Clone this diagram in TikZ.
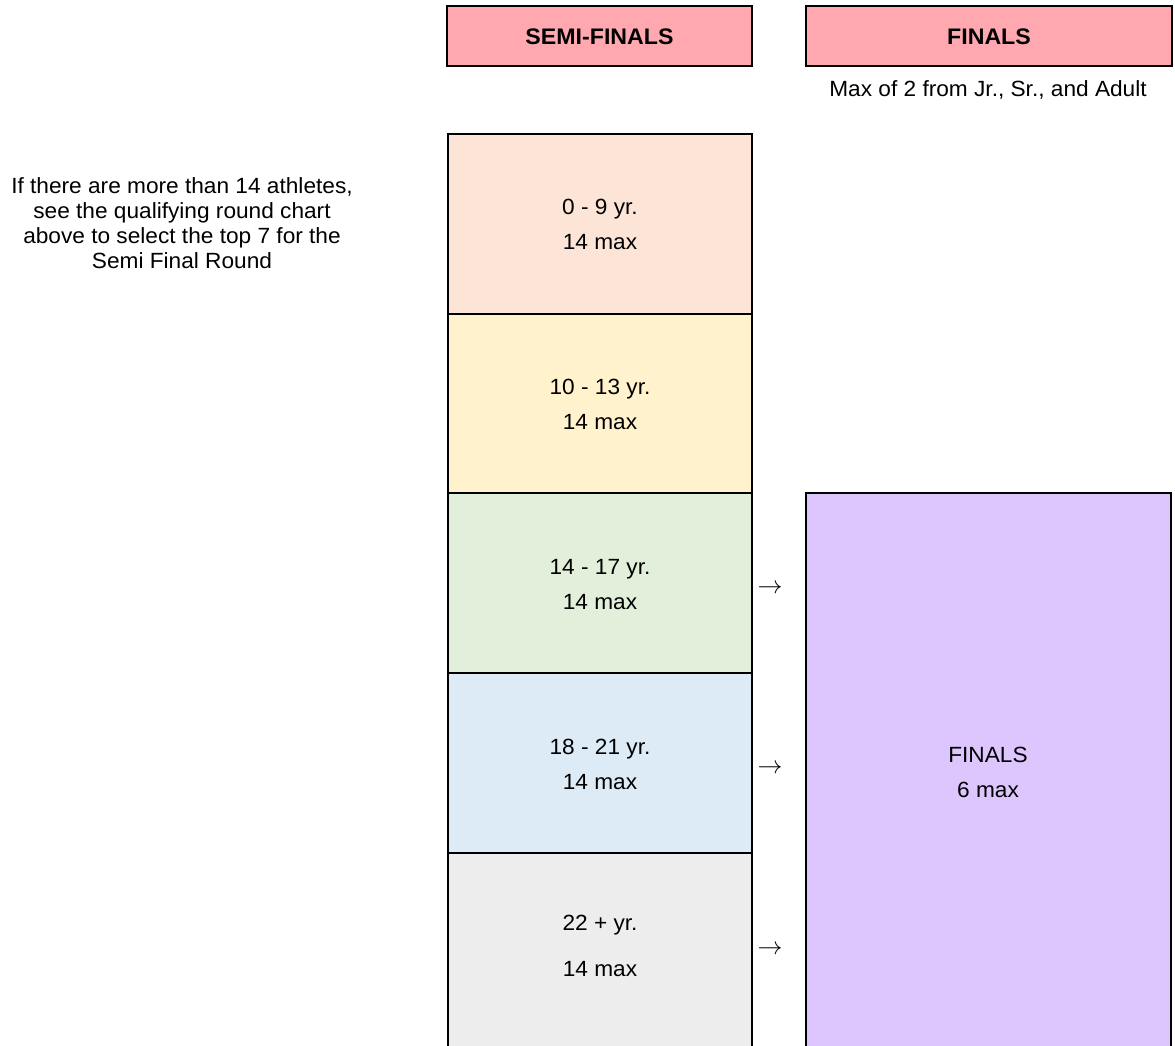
\documentclass[tikz,border=0pt]{standalone}
\usepackage{fontspec}
\setmainfont{Liberation Sans}[FakeStretch=1.03]
\definecolor{hdrpink}{HTML}{FFA8B0}
\definecolor{cpeach}{HTML}{FCE4D6}
\definecolor{cyellow}{HTML}{FFF2CC}
\definecolor{cgreen}{HTML}{E2EFDA}
\definecolor{cblue}{HTML}{DDEBF7}
\definecolor{cgrey}{HTML}{EDEDED}
\definecolor{clav}{HTML}{DDC5FE}
\begin{document}
\begin{tikzpicture}[x=1pt,y=-1pt,
  box/.style={draw=black, line width=1.6pt, inner sep=0pt, outer sep=0pt},
  txt/.style={anchor=base, inner sep=0pt, font=\fontsize{22}{25}\selectfont},
  btxt/.style={txt, font=\fontsize{22.5}{25}\selectfont\bfseries},
  arr/.style={anchor=base, inner sep=0pt, font=\fontsize{24}{26}\selectfont}]
\useasboundingbox (0,0) rectangle (1175,1046);
% headers
\path[box, fill=hdrpink] (447,6) rectangle (752,66);
\node[btxt] (hsemi) at (599.5,45) {SEMI-FINALS};
\path[box, fill=hdrpink] (806,6) rectangle (1172,66);
\node[btxt] (hfin) at (989,45) {FINALS};
\node[txt] (maxnote) at (988,96.5) {Max of 2 from Jr., Sr., and Adult};
% left note
\node[txt] (n1) at (182,193.5) {If there are more than 14 athletes,};
\node[txt] (n2) at (182,218.5) {see the qualifying round chart};
\node[txt] (n3) at (182,243.5) {above to select the top 7 for the};
\node[txt] (n4) at (182,268.5) {Semi Final Round};
% semi-final column
\path[box, fill=cpeach]  (448,134) rectangle (752,314);
\path[box, fill=cyellow] (448,314) rectangle (752,493);
\path[box, fill=cgreen]  (448,493) rectangle (752,673);
\path[box, fill=cblue]   (448,673) rectangle (752,853);
\path[box, fill=cgrey]   (448,853) rectangle (752,1060);
\node[txt] (a1) at (600,214.5) {0 - 9 yr.};
\node[txt] (a2) at (600,249.5) {14 max};
\node[txt] (b1) at (600,394.5) {10 - 13 yr.};
\node[txt] (b2) at (600,429.5) {14 max};
\node[txt] (c1) at (600,574.5) {14 - 17 yr.};
\node[txt] (c2) at (600,609.5) {14 max};
\node[txt] (d1) at (600,754.5) {18 - 21 yr.};
\node[txt] (d2) at (600,789.5) {14 max};
\node[txt] (e1) at (600,930.5) {22 + yr.};
\node[txt] (e2) at (600,976.5) {14 max};
% finals box
\path[box, fill=clav] (806,493) rectangle (1171,1060);
\node[txt] (f1) at (988,762.5) {FINALS};
\node[txt] (f2) at (988,797.5) {6 max};
% arrows
\node[arr] (ar1) at (770,593.5) {$\rightarrow$};
\node[arr] (ar2) at (770,773.5) {$\rightarrow$};
\node[arr] (ar3) at (770,954.5) {$\rightarrow$};
\end{tikzpicture}
\end{document}
